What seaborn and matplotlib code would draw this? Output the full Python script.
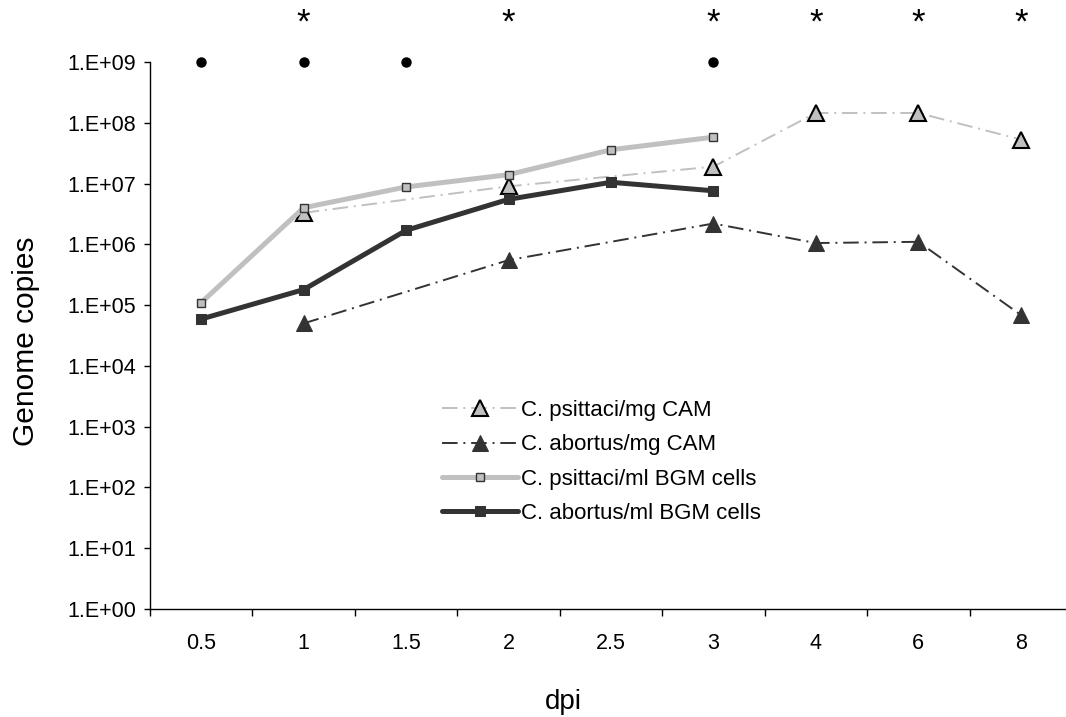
import numpy as np
import pandas as pd
import seaborn as sns
import matplotlib.pyplot as plt

# categories on the x axis (days post infection)
dpi_labels = ["0.5", "1", "1.5", "2", "2.5", "3", "4", "6", "8"]
psittaci_cam = [np.nan, 3.3e6, np.nan, 9.0e6, np.nan, 1.9e7, 1.45e8, 1.45e8, 5.3e7]
abortus_cam = [np.nan, 5.0e4, np.nan, 5.5e5, np.nan, 2.2e6, 1.05e6, 1.1e6, 6.9e4]
psittaci_bgm = [1.1e5, 4.0e6, 8.8e6, 1.4e7, 3.6e7, 5.8e7, np.nan, np.nan, np.nan]
abortus_bgm = [5.9e4, 1.8e5, 1.7e6, 5.5e6, 1.05e7, 7.6e6, np.nan, np.nan, np.nan]
# significance marks
star_cats = ["1", "2", "3", "4", "6", "8"]
dot_cats = ["0.5", "1", "1.5", "3"]

sns.set_style("white", {"text.color": "black", "axes.labelcolor": "black",
                        "xtick.color": "black", "ytick.color": "black"})
plt.rcParams['font.family'] = ['Liberation Sans', 'DejaVu Sans']

pos = np.arange(len(dpi_labels))
df = pd.DataFrame({"pos": pos, "psittaci_cam": psittaci_cam, "abortus_cam": abortus_cam,
                   "psittaci_bgm": psittaci_bgm, "abortus_bgm": abortus_bgm})

light = "#C0C0C0"
dark = "#333333"
dashdot = (0, (8, 3, 1, 3))

fig = plt.figure(figsize=(10.66, 7.17), dpi=100)
ax = fig.add_axes([150 / 1066, 108 / 717, 922 / 1066, 547 / 717])

sns.lineplot(data=df, x="pos", y="psittaci_cam", ax=ax, color=light, lw=1.4, linestyle=dashdot,
             marker="^", markersize=11, markerfacecolor=light, markeredgecolor="black",
             markeredgewidth=1.5, label="C. psittaci/mg CAM")
sns.lineplot(data=df, x="pos", y="abortus_cam", ax=ax, color=dark, lw=1.4, linestyle=dashdot,
             marker="^", markersize=11, markerfacecolor=dark, markeredgecolor=dark,
             label="C. abortus/mg CAM")
sns.lineplot(data=df, x="pos", y="psittaci_bgm", ax=ax, color=light, lw=3.6,
             marker="s", markersize=6, markerfacecolor=light, markeredgecolor=dark,
             markeredgewidth=1, label="C. psittaci/ml BGM cells")
sns.lineplot(data=df, x="pos", y="abortus_bgm", ax=ax, color=dark, lw=3.6,
             marker="s", markersize=7, markerfacecolor=dark, markeredgecolor=dark,
             label="C. abortus/ml BGM cells")

# significance markers above the data
for c in dot_cats:
    ax.plot(dpi_labels.index(c), 1e9, "o", color="black", markersize=6.5, clip_on=False)
for c in star_cats:
    ax.text(dpi_labels.index(c), 4.3e9, "*", fontsize=25, ha="center", va="center", clip_on=False)

ax.set_yscale("log")
ax.set_ylim(1, 1e9)
ax.set_xlim(-0.5, len(dpi_labels) - 0.5)
ax.set_yticks([10.0 ** k for k in range(10)])
ax.set_yticklabels(["1.E+%02d" % k for k in range(10)])
ax.yaxis.set_minor_locator(plt.NullLocator())
ax.set_xticks(pos)
ax.set_xticklabels(dpi_labels)
ax.set_xticks(np.arange(len(dpi_labels) + 1) - 0.5, minor=True)
ax.tick_params(axis="x", which="major", length=0, pad=17, labelsize=15.5)
ax.tick_params(axis="x", which="minor", length=5, width=1, direction="out", bottom=True)
ax.tick_params(axis="y", which="major", length=4, width=1, direction="out", left=True, pad=6, labelsize=15.5)

for s in ["top", "right"]:
    ax.spines[s].set_visible(False)
for s in ["left", "bottom"]:
    ax.spines[s].set_color("black")
    ax.spines[s].set_linewidth(1)

ax.set_xlabel("dpi", fontsize=20)
ax.set_ylabel("Genome copies", fontsize=21.5)
ax.xaxis.set_label_coords((563 - 150) / 922, (609 - 689) / 547)
ax.yaxis.set_label_coords((40 - 150) / 922, 0.49)

ax.legend(loc="upper left", bbox_to_anchor=(442 / 1066, 1 - 400 / 717), bbox_transform=fig.transFigure,
          frameon=False, fontsize=16, handlelength=3.4, handletextpad=0.15, labelspacing=0.6,
          borderpad=0, borderaxespad=0)

plt.savefig("out.png", dpi=100)
